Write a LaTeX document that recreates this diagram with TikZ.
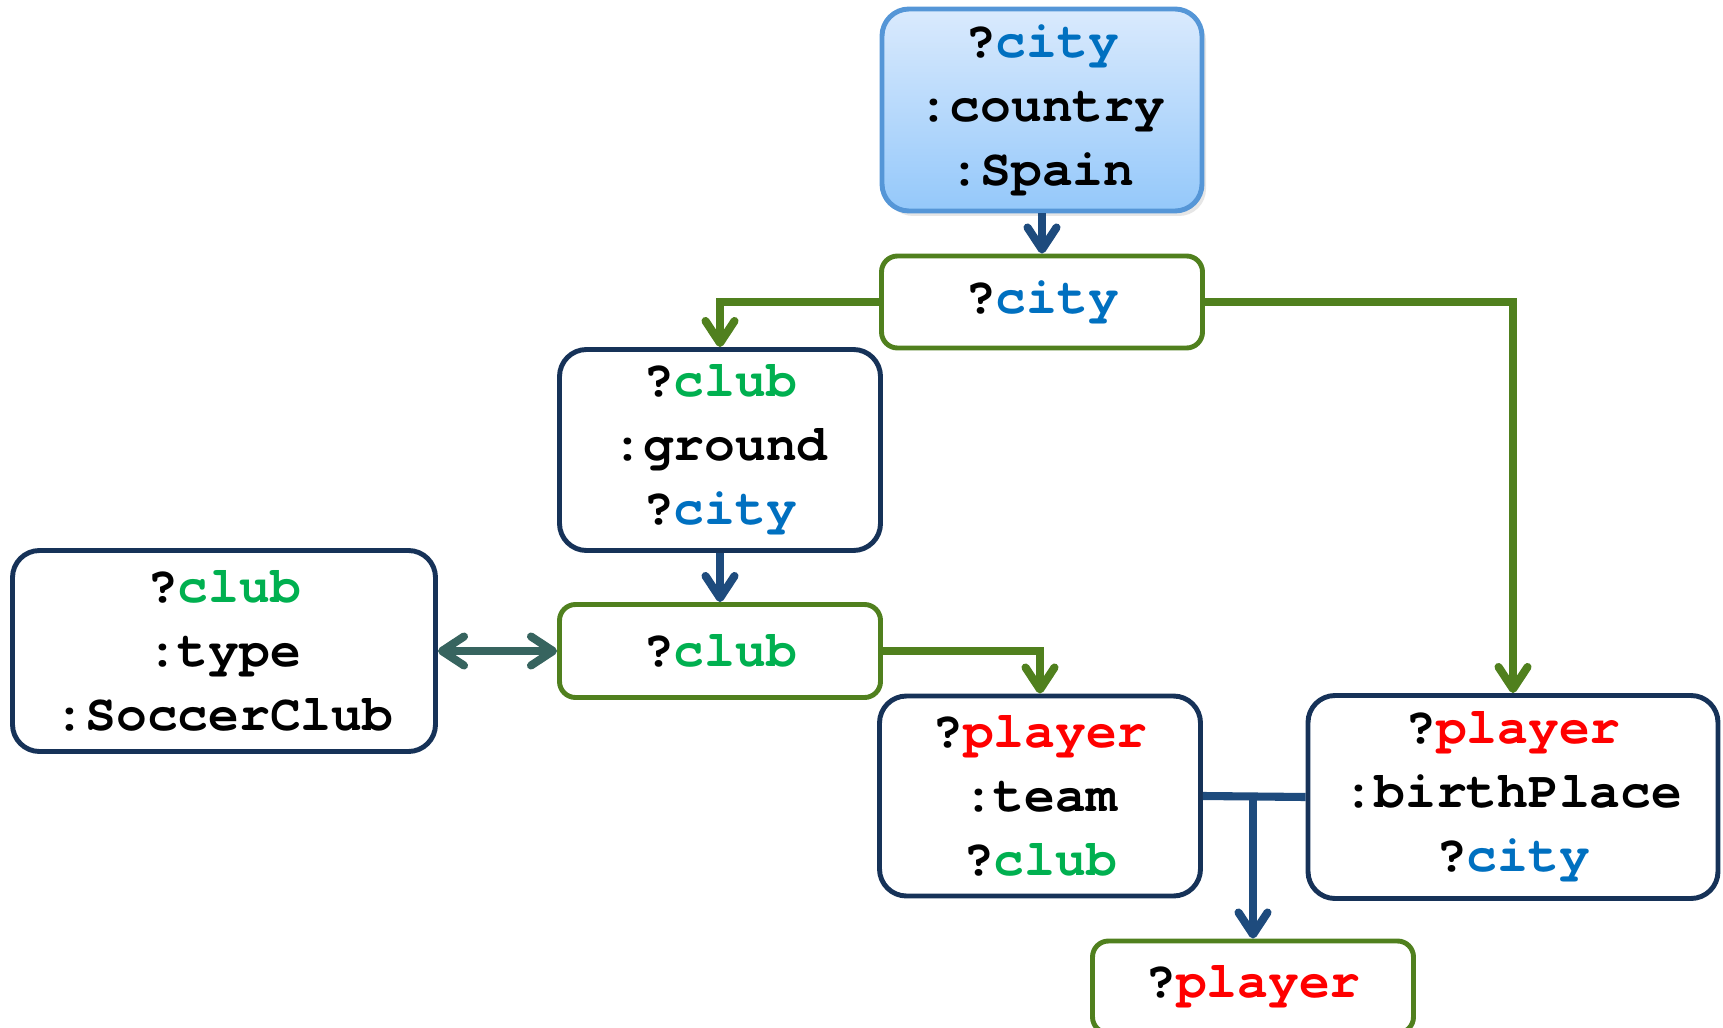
\documentclass[tikz,border=0pt]{standalone}
\usepackage{xcolor}
\usepackage{fontspec}
\setmonofont{texgyrecursor}[Extension=.otf, UprightFont=*-regular, BoldFont=*-bold]
\usepackage{tikz}
\usetikzlibrary{arrows.meta, positioning, shadows}
\definecolor{navy}{RGB}{22,50,88}
\definecolor{linkblue}{RGB}{30,75,125}
\definecolor{olive}{RGB}{80,128,30}
\definecolor{mixarrow}{RGB}{55,100,95}
\definecolor{cityblue}{RGB}{0,112,192}
\definecolor{clubgreen}{RGB}{0,176,80}
\definecolor{playerred}{RGB}{255,0,0}
\definecolor{topfill}{RGB}{218,234,253}
\definecolor{botfill}{RGB}{148,200,250}
\definecolor{topedge}{RGB}{85,150,215}
\newcommand{\vcity}{?\textcolor{cityblue}{city}}
\newcommand{\vclub}{?\textcolor{clubgreen}{club}}
\newcommand{\vplayer}{?\textcolor{playerred}{player}}
\tikzset{
  pattern/.style={rectangle, draw=navy, fill=white, align=center,
    minimum width=3.21cm, minimum height=2.01cm, rounded corners=0.27cm,
    line width=1.4pt, font=\ttfamily\bfseries\fontsize{14.6}{18.2}\selectfont},
  joinvar/.style={rectangle, draw=olive, fill=white, align=center,
    minimum width=3.21cm, minimum height=0.92cm, rounded corners=0.16cm,
    line width=1.4pt, font=\ttfamily\bfseries\fontsize{14.6}{18.2}\selectfont},
  bluearrow/.style={-{Straight Barb[length=2.2mm, width=2.9mm, round]},
    line width=2.3pt, color=linkblue},
  greenarrow/.style={-{Straight Barb[length=2.2mm, width=2.9mm, round]},
    line width=2.3pt, color=olive},
  bothway/.style={{Straight Barb[length=2.2mm, width=2.9mm, round]}-{Straight Barb[length=2.2mm, width=2.9mm, round]},
    line width=2.3pt, color=mixarrow},
  blueline/.style={line width=2.3pt, color=linkblue}
}
\begin{document}
\begin{tikzpicture}
  \useasboundingbox (0,0) rectangle (17.23,-10.28);

  % patterns and join variables
  \node[pattern, draw=topedge, top color=topfill, bottom color=botfill,
    minimum width=3.20cm, minimum height=2.02cm,
    drop shadow={opacity=0.2, shadow xshift=0.04cm, shadow yshift=-0.05cm}]
    (spain) at (10.42,-1.10) {\vcity\\:country\\:Spain};
  \node[joinvar] (citysel) at (10.42,-3.02) {\vcity};
  \node[pattern] (ground) at (7.20,-4.50) {\vclub\\:ground\\\vcity};
  \node[joinvar, minimum height=0.93cm] (clubsel) at (7.20,-6.51) {\vclub};
  \node[pattern, minimum width=4.23cm] (soccer) at (2.24,-6.51) {\vclub\\:type\\:SoccerClub};
  \node[pattern, minimum height=2.00cm] (team) at (10.40,-7.96) {\vplayer\\:team\\\vclub};
  \node[pattern, minimum width=4.10cm, minimum height=2.03cm] (birth) at (15.13,-7.97) {\vplayer\\:birthPlace\\\vcity};
  \node[joinvar] (playersel) at (12.53,-9.87) {\vplayer};

  % connectors
  \draw[bluearrow] (spain) -- (citysel);
  \draw[greenarrow] (citysel.west) -| (ground.north);
  \draw[greenarrow] (citysel.east) -| (birth.north);
  \draw[bluearrow] (ground) -- (clubsel);
  \draw[bothway] (soccer) -- (clubsel);
  \draw[greenarrow] (clubsel.east) -| (team.north);
  \draw[blueline] (team.east) -- (birth.west);
  \draw[bluearrow] (team.east -| playersel.north) -- (playersel.north);
\end{tikzpicture}
\end{document}
